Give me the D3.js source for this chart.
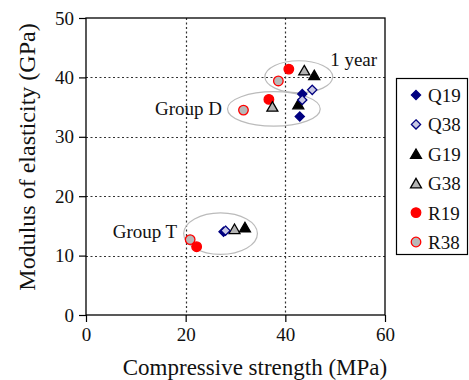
<!DOCTYPE html>
<html>
<head>
<meta charset="utf-8">
<script src="https://cdn.jsdelivr.net/npm/d3@7"></script>
<style>
  html, body { margin: 0; padding: 0; background: #fff; }
  svg { display: block; font-family: "Liberation Serif", "Times New Roman", serif; }
</style>
</head>
<body>
<svg id="chart" width="469" height="380"></svg>
<script>
// Compressive strength (MPa) vs modulus of elasticity (GPa) per mix
const seriesNames = ["Q19", "Q38", "G19", "G38", "R19", "R38"];
const xTicks = [0, 20, 40, 60];
const yTicks = [0, 10, 20, 30, 40, 50];

// [strength, modulus] points: Group T, Group D, 1 year
const q19 = [[27.6, 14.0], [42.9, 33.4], [43.4, 37.2]];
const q38 = [[28.0, 14.2], [43.4, 36.2], [45.4, 37.9]];
const g19 = [[31.9, 14.8], [42.6, 35.5], [45.8, 40.4]];
const g38 = [[29.8, 14.5], [37.4, 35.1], [43.8, 41.2]];
const r19 = [[22.2, 11.5], [36.7, 36.3], [40.7, 41.4]];
const r38 = [[20.9, 12.7], [31.6, 34.5], [38.6, 39.4]];

// group ellipses: centre (MPa, GPa), radii (MPa, GPa)
const groupNames = ["Group T", "Group D", "1 year"];
const groupCentres = [[27.0, 13.7], [37.7, 34.7], [42.7, 40.1]];
const groupRadii = [[7.4, 3.5], [9.3, 2.9], [6.8, 2.7]];
const groupLabelAt = [[5.35, 13.0], [13.85, 33.7], [49.0, 41.9]];

const svg = d3.select("#chart");
const plotL = 86, plotR = 385, plotT = 18, plotB = 315;

const x = d3.scaleLinear().domain([0, 60]).range([plotL, plotR]);
const y = d3.scaleLinear().domain([0, 50]).range([plotB, plotT]);

// dotted grid
const grid = svg.append("g").attr("stroke", "#333").attr("stroke-width", 1.2)
  .attr("stroke-dasharray", "2,2.5");
grid.selectAll("line.v").data(xTicks.filter(d => d > 0 && d < 60)).join("line")
  .attr("class", "v")
  .attr("x1", d => Math.round(x(d)) + 0.5).attr("x2", d => Math.round(x(d)) + 0.5)
  .attr("y1", plotT).attr("y2", plotB);
grid.selectAll("line.h").data(yTicks.filter(d => d > 0 && d < 50)).join("line")
  .attr("class", "h")
  .attr("x1", plotL).attr("x2", plotR)
  .attr("y1", d => Math.round(y(d)) + 0.5).attr("y2", d => Math.round(y(d)) + 0.5);

// frame
svg.append("rect").attr("x", plotL).attr("y", plotT)
  .attr("width", plotR - plotL).attr("height", plotB - plotT)
  .attr("fill", "none").attr("stroke", "#000").attr("stroke-width", 1.3);

// axes
const xAxis = svg.append("g").attr("transform", `translate(0,${plotB})`)
  .call(d3.axisBottom(x).tickValues(xTicks).tickSize(7).tickSizeOuter(0).tickPadding(6));
const yAxis = svg.append("g").attr("transform", `translate(${plotL},0)`)
  .call(d3.axisLeft(y).tickValues(yTicks).tickSize(7).tickSizeOuter(0).tickPadding(5));
[xAxis, yAxis].forEach(a => {
  a.select(".domain").remove();
  a.selectAll("text").attr("font-family", "Liberation Serif, serif")
    .attr("font-size", 19).attr("fill", "#111");
  a.selectAll("line").attr("stroke", "#000").attr("stroke-width", 1.2);
});

// axis titles
svg.append("text").attr("x", 255).attr("y", 375)
  .attr("text-anchor", "middle").attr("font-size", 23).attr("fill", "#111")
  .text("Compressive strength (MPa)");
svg.append("text").attr("transform", "translate(35,157) rotate(-90)")
  .attr("text-anchor", "middle").attr("font-size", 24).attr("fill", "#111")
  .text("Modulus of elasticity (GPa)");

// group ellipses
svg.append("g").selectAll("ellipse").data(groupCentres).join("ellipse")
  .attr("cx", d => x(d[0])).attr("cy", d => y(d[1]))
  .attr("rx", (d, i) => x(groupRadii[i][0]) - x(0))
  .attr("ry", (d, i) => y(0) - y(groupRadii[i][1]))
  .attr("fill", "none").attr("stroke", "#bbb").attr("stroke-width", 1.2);

svg.append("g").selectAll("text").data(groupNames).join("text")
  .attr("x", (d, i) => x(groupLabelAt[i][0])).attr("y", (d, i) => y(groupLabelAt[i][1]))
  .attr("font-size", 19).attr("fill", "#111").text(d => d);

// square diamond (equal diagonals)
const squareDiamond = {
  draw(ctx, size) {
    const r = Math.sqrt(size / 2);
    ctx.moveTo(0, -r); ctx.lineTo(r, 0); ctx.lineTo(0, r); ctx.lineTo(-r, 0); ctx.closePath();
  }
};

// marker styles
const styles = {
  Q19: { shape: squareDiamond, fill: "#000080", stroke: "#000080" },
  Q38: { shape: squareDiamond, fill: "#c8c8e4", stroke: "#000080" },
  G19: { shape: d3.symbolTriangle, fill: "#000", stroke: "#000" },
  G38: { shape: d3.symbolTriangle, fill: "#b4b4b4", stroke: "#000" },
  R19: { shape: d3.symbolCircle, fill: "#ff0000", stroke: "#ff0000" },
  R38: { shape: d3.symbolCircle, fill: "#b8b8b8", stroke: "#ff0000" }
};
const sizes = { Q: 42, G: 52, R: 72 };
const symbolPath = name => d3.symbol().type(styles[name].shape).size(sizes[name[0]])();
const triOffset = name => styles[name].shape === d3.symbolTriangle ? 1.5 : 0;

const seriesData = { Q19: q19, Q38: q38, G19: g19, G38: g38, R19: r19, R38: r38 };
const drawOrder = ["R38", "R19", "G38", "G19", "Q19", "Q38"];
drawOrder.forEach(name => {
  svg.append("g").selectAll("path").data(seriesData[name]).join("path")
    .attr("transform", d => `translate(${x(d[0])},${y(d[1]) + triOffset(name)})`)
    .attr("d", symbolPath(name))
    .attr("fill", styles[name].fill).attr("stroke", styles[name].stroke)
    .attr("stroke-width", 1.3);
});

// legend
const lg = svg.append("g");
lg.append("rect").attr("x", 396.5).attr("y", 78.5).attr("width", 71).attr("height", 176)
  .attr("fill", "#fff").attr("stroke", "#000").attr("stroke-width", 1.2);
const rowY = d3.scalePoint().domain(seriesNames).range([95, 242]);
const rows = lg.selectAll("g.row").data(seriesNames).join("g")
  .attr("class", "row")
  .attr("transform", d => `translate(416,${rowY(d)})`);
rows.append("path")
  .attr("transform", d => `translate(0,${triOffset(d)})`)
  .attr("d", d => symbolPath(d))
  .attr("fill", d => styles[d].fill).attr("stroke", d => styles[d].stroke)
  .attr("stroke-width", 1.3);
rows.append("text").attr("x", 12).attr("y", 7)
  .attr("font-size", 19).attr("fill", "#111").text(d => d);
</script>
</body>
</html>
